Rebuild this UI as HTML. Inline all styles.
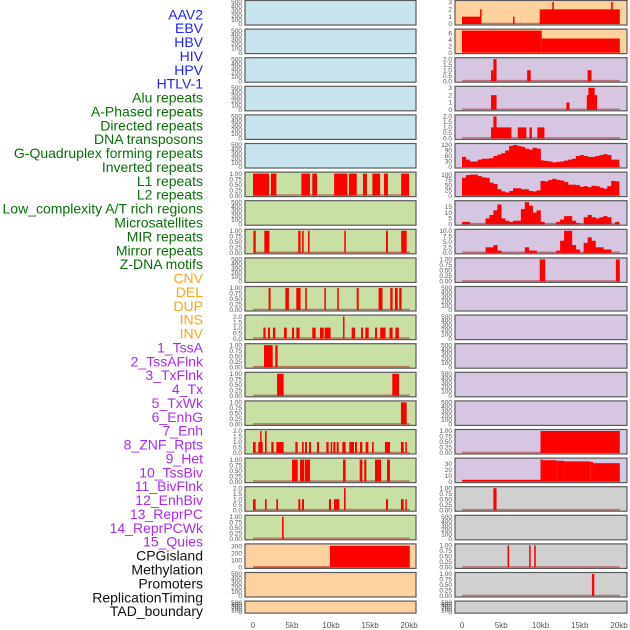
<!DOCTYPE html>
<html><head><meta charset="utf-8">
<style>
html,body{margin:0;padding:0;background:#fff;}
svg{display:block;font-family:"Liberation Sans",sans-serif;}
</style></head>
<body>
<svg id="chart" width="630" height="630" viewBox="0 0 630 630"></svg>
<script>
const trackLabels = ["AAV2","EBV","HBV","HIV","HPV","HTLV-1","Alu repeats","A-Phased repeats","Directed repeats","DNA transposons","G-Quadruplex forming repeats","Inverted repeats","L1 repeats","L2 repeats","Low_complexity A/T rich regions","Microsatellites","MIR repeats","Mirror repeats","Z-DNA motifs","CNV","DEL","DUP","INS","INV","1_TssA","2_TssAFlnk","3_TxFlnk","4_Tx","5_TxWk","6_EnhG","7_Enh","8_ZNF_Rpts","9_Het","10_TssBiv","11_BivFlnk","12_EnhBiv","13_ReprPC","14_ReprPCWk","15_Quies","CPGisland","Methylation","Promoters","ReplicationTiming","TAD_boundary"];
const labelGroups = ["virus","virus","virus","virus","virus","virus","repeat","repeat","repeat","repeat","repeat","repeat","repeat","repeat","repeat","repeat","repeat","repeat","repeat","sv","sv","sv","sv","sv","hmm","hmm","hmm","hmm","hmm","hmm","hmm","hmm","hmm","hmm","hmm","hmm","hmm","hmm","hmm","other","other","other","other","other"];
const xTickValues = [0,5,10,15,20];
const xTickLabels = ["0","5kb","10kb","15kb","20kb"];

const leftL1 = [[0,2.05,1],[2.3,3.0,1],[6.2,7.3,1],[7.6,8.2,1],[10.4,12.1,1],[12.3,13.3,1],[14.1,14.6,1],[15.3,16.3,1],[16.8,17.3,1],[19.0,20.0,1]];
const leftMIR = [[0.05,0.35,1],[1.45,2.1,1],[5.8,6.1,1],[6.3,6.5,1],[7.05,7.25,1],[11.7,11.9,1],[17.05,17.3,1],[19.0,19.7,1]];
const leftCNV = [[2.0,2.25,1],[4.15,4.6,1],[5.55,6.1,1],[6.7,6.9,1],[9.15,9.3,1],[10.8,11.0,1],[13.3,13.55,1],[16.1,16.6,1],[17.6,17.9,1],[18.2,18.55,1],[18.75,19.05,1]];
const leftDEL = [[1.33,1.62,1],[1.92,2.18,1],[2.56,2.86,1],[3.97,4.32,1],[5.0,5.26,1],[5.56,5.98,1],[7.6,8.03,1],[8.59,9.06,1],[9.18,9.95,1],[11.54,11.71,2],[12.65,13.08,1],[13.85,14.1,1],[14.4,14.83,1],[15.64,15.9,1],[16.3,17.0,1],[17.5,17.9,1],[18.25,18.7,1]];
const leftTssA = [[1.41,2.52,1],[2.86,3.16,1]];
const leftTssAFlnk = [[3.08,3.93,1],[17.86,18.72,1]];
const leftTxFlnk = [[18.97,19.7,1]];
const leftTxWk = [[0,0.34,1],[0.68,1.24,1],[0.91,1.08,2],[1.54,1.75,2],[2.35,2.65,1],[2.99,3.93,1],[5.43,5.73,1],[6.28,6.5,1],[6.67,6.92,1],[7.18,7.44,1],[8.2,8.46,1],[9.4,9.7,1],[9.96,10.13,1],[10.3,10.56,1],[10.73,10.98,1],[11.45,11.88,1],[12.35,12.95,1],[13.08,13.33,1],[13.72,14.02,1],[14.44,14.79,1],[15.26,15.47,1],[16.92,17.56,1],[18.97,19.32,1],[19.53,19.7,1]];
const leftEnhG = [[5.0,5.73,1],[6.03,6.58,1],[6.67,7.31,1],[11.54,11.88,1],[13.68,14.02,1],[14.27,14.53,1],[15.64,16.41,1],[17.18,17.56,1]];
const leftEnh = [[0,0.34,1],[1.54,1.75,1],[2.99,3.21,1],[5.81,6.07,1],[6.28,6.54,1],[9.74,10.0,1],[10.38,11.07,1],[11.67,11.88,2],[17.05,17.31,1],[18.97,19.32,1],[19.53,19.7,1]];
const leftZNF = [[3.72,3.93,1]];
const leftCpG = [[0,9.87,8],[9.87,20.1,305]];
const rightAAV2 = [[0,2.3,1],[2.3,2.45,2],[6.5,6.65,1],[9.9,20.1,2],[11.5,11.7,3],[19.0,19.2,3]];
const rightEBV = [[0,10.15,6.8],[10.15,20.1,4.35]];
const rightHIV = [[3.7,4.0,1],[4.0,4.4,2],[8.3,8.75,1],[16.0,16.5,1]];
const rightHPV = [[3.7,4.4,2],[13.3,13.7,1],[15.9,17.2,2],[16.1,16.9,3]];
const rightAlu = [[3.7,6.3,1],[4.0,4.4,2],[7.1,8.2,1],[8.6,8.9,1],[9.6,10.5,1]];
const rightLowComp = [[9.9,10.6,1],[19.6,20.1,1]];
const rightTssBiv = [[10.0,20.1,1]];
const rightBivFlnk = [[0,10.0,3],[10.0,10.3,37],[10.3,12.0,36],[12.0,13.0,35],[13.0,16.4,34],[16.4,16.7,33],[16.7,20.1,31]];
const rightEnhBiv = [[4.0,4.4,1]];
const rightCpG = [[5.8,6.0,1],[8.55,8.7,1],[9.2,9.4,1]];
const rightMeth = [[16.55,16.85,1]];

const gquadBins = [55,40,30,30,40,45,45,48,60,68,75,90,115,120,115,110,100,95,105,100,36,33,30,25,28,30,35,40,45,60,65,60,55,55,60,65,70,65,40,40];
const invertedBins = [85,98,100,100,93,87,85,62,55,30,20,15,22,35,35,30,30,22,20,25,70,68,75,80,75,72,65,52,52,50,42,45,40,47,45,38,33,45,70,68];
const l1Bins = [2,2,0,0,0,0,5,8,12,17,5,3,2,3,3,13,19,16,10,12,2,0,0,0,2,4,7,7,3,1,0,6,8,6,5,6,7,6,0,2];
const l2Bins = [0,0,0,0,0,0,2.5,2.5,3.5,1,0,0,0,0,0,0,2.5,1,1,0,0,0,0,0,1,5.5,10,10,3.5,1.5,0,4.5,7,5.5,2.5,2.5,1.5,1.5,0,0];

const T500 = {max:500, ticks:[0,100,200,300,400,500], labels:["0","100","200","300","400","500"]};
const T1 = {max:1, ticks:[0,0.25,0.5,0.75,1], labels:["0.00","0.25","0.50","0.75","1.00"]};
const T2 = {max:2, ticks:[0,0.5,1,1.5,2], labels:["0.0","0.5","1.0","1.5","2.0"]};
const C = {blue:"#c8e4ec", green:"#c8e0a4", orange:"#ffd19e", purple:"#d6c6e2", gray:"#d0d0d0"};

const leftPanels = [
 {bg:C.blue,t:T500},{bg:C.blue,t:T500},{bg:C.blue,t:T500},{bg:C.blue,t:T500},{bg:C.blue,t:T500},{bg:C.blue,t:T500},
 {bg:C.green,t:T1,iv:leftL1,name:"l1"},{bg:C.green,t:T500},{bg:C.green,t:T1,iv:leftMIR,name:"mir"},{bg:C.green,t:T500},
 {bg:C.green,t:T1,iv:leftCNV,name:"cnv"},{bg:C.green,t:T2,iv:leftDEL,name:"del"},{bg:C.green,t:T1,iv:leftTssA,name:"tssa"},
 {bg:C.green,t:T1,iv:leftTssAFlnk,name:"tssaflnk"},{bg:C.green,t:T1,iv:leftTxFlnk,name:"txflnk"},{bg:C.green,t:T2,iv:leftTxWk,name:"txwk"},
 {bg:C.green,t:T1,iv:leftEnhG,name:"enhg"},{bg:C.green,t:T2,iv:leftEnh,name:"enh"},{bg:C.green,t:T1,iv:leftZNF,name:"znf"},
 {bg:C.orange,t:{max:310,ticks:[0,100,200,300],labels:["0","100","200","300"]},iv:leftCpG,name:"cpg"},
 {bg:C.orange,t:T500},{bg:C.orange,t:T500}
];
const rightPanels = [
 {bg:C.orange,t:{max:3,ticks:[0,1,2,3],labels:["0","1","2","3"]},iv:rightAAV2,name:"aav2"},
 {bg:C.orange,t:{max:6.8,ticks:[0,2,4,6],labels:["0","2","4","6"]},iv:rightEBV,name:"ebv"},
 {bg:C.purple,t:T2,iv:rightHIV,name:"hiv"},
 {bg:C.purple,t:{max:3,ticks:[0,1,2,3],labels:["0","1","2","3"]},iv:rightHPV,name:"hpv"},
 {bg:C.purple,t:T2,iv:rightAlu,name:"alu"},
 {bg:C.purple,t:{max:120,ticks:[0,30,60,90,120],labels:["0","30","60","90","120"]},bins:gquadBins,name:"gquad"},
 {bg:C.purple,t:{max:105,ticks:[0,25,50,75,100],labels:["0","25","50","75","100"]},bins:invertedBins,name:"inverted"},
 {bg:C.purple,t:{max:19,ticks:[0,5,10,15],labels:["0","5","10","15"]},bins:l1Bins,name:"l1-density"},
 {bg:C.purple,t:{max:10,ticks:[0,2.5,5,7.5,10],labels:["0.0","2.5","5.0","7.5","10.0"]},bins:l2Bins,name:"l2-density"},
 {bg:C.purple,t:T1,iv:rightLowComp,name:"lowcomp"},
 {bg:C.purple,t:T500},{bg:C.purple,t:T500},{bg:C.purple,t:T500},{bg:C.purple,t:T500},{bg:C.purple,t:T500},
 {bg:C.purple,t:T1,iv:rightTssBiv,name:"tssbiv"},
 {bg:C.purple,t:{max:37,ticks:[0,10,20,30],labels:["0","10","20","30"]},iv:rightBivFlnk,name:"bivflnk"},
 {bg:C.gray,t:T1,iv:rightEnhBiv,name:"enhbiv"},
 {bg:C.gray,t:T500},
 {bg:C.gray,t:T1,iv:rightCpG,name:"cpg-right"},
 {bg:C.gray,t:T1,iv:rightMeth,name:"methylation"},
 {bg:C.gray,t:T500}
];

const NS="http://www.w3.org/2000/svg";
const svg=document.getElementById("chart");
function mk(tag,attrs,parent){const e=document.createElementNS(NS,tag);for(const k in attrs)e.setAttribute(k,attrs[k]);(parent||svg).appendChild(e);return e;}

const labelColors={virus:"#1f1fff",repeat:"#0a6e0a",sv:"#ffa51a",hmm:"#a62cf0",other:"#111"};
trackLabels.forEach((lab,i)=>{
  const t=mk("text",{x:203,y:19.3+i*13.88,"text-anchor":"end","font-size":"14",fill:labelColors[labelGroups[i]]});
  t.textContent=lab;
  
  
});

const cols=[{x:245,w:171,x0:253,k:7.8,panels:leftPanels,id:"left"},{x:455,w:172,x0:462,k:7.85,panels:rightPanels,id:"right"}];
cols.forEach(col=>{
  const xs=kb=>col.x0+kb*col.k;
  col.panels.forEach((p,i)=>{
    const top=0.5+i*28.6, h=(i===21?12:24.5);
    const g=mk("g",{});
    
    
    mk("rect",{x:col.x,y:top,width:col.w,height:h,fill:p.bg},g);
    const yb=top+h-1, yt=top+1.5;
    const ys=v=>yb-(v/p.t.max)*(yb-yt);
    p.t.ticks.forEach((tv,j)=>{
      const tx=mk("text",{x:col.x-3,y:ys(tv)+2.2,"text-anchor":"end","font-size":"6.5",fill:"#555"},g);
      tx.textContent=p.t.labels[j];
      
      
    });
    if(p.iv||p.bins){
      const bl=mk("line",{x1:xs(0),x2:xs(20.1),y1:yb-0.5,y2:yb-0.5,stroke:"rgba(170,40,40,0.55)","stroke-width":1.6},g);
      
      
    }
    if(p.iv){
      p.iv.forEach(d=>{
        const r=mk("rect",{x:xs(d[0]),y:ys(d[2]),width:Math.max(1.5,xs(d[1])-xs(d[0])),height:yb-ys(d[2]),fill:"#ff0000"},g);
        
        
      });
    }
    if(p.bins){
      p.bins.forEach((v,j)=>{
        if(v<=0)return;
        const r=mk("rect",{x:xs(j*0.5),y:ys(v),width:xs(0.5)-xs(0)+0.3,height:yb-ys(v),fill:"#ff0000"},g);
        
        
      });
    }
    mk("rect",{x:col.x,y:top,width:col.w,height:h,fill:"none",stroke:"#5a5a5a","stroke-width":1.2},g);
  });
  xTickValues.forEach((v,j)=>{
    const t=mk("text",{x:xs(v),y:628,"text-anchor":"middle","font-size":"8",fill:"#555"});
    t.textContent=xTickLabels[j];
    
    
  });
});
</script>
</body></html>
